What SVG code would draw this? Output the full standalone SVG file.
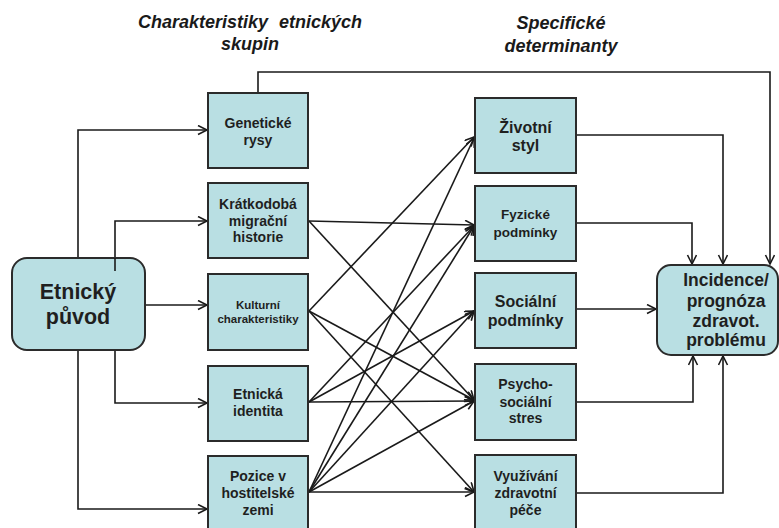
<svg xmlns="http://www.w3.org/2000/svg" width="779" height="528" viewBox="0 0 779 528">
  <defs>
    <marker id="arrow" markerUnits="userSpaceOnUse" markerWidth="12" markerHeight="12" refX="10" refY="5" orient="auto">
      <path d="M1,0.5 L10,5 L1,9.5" fill="none" stroke="#1a1a1a" stroke-width="1.6" stroke-linejoin="miter"/>
    </marker>
    <style>
      .box { fill: #b9dfe3; stroke: #2b2b2b; stroke-width: 2; }
      .lbl { font-family: "Liberation Sans", Arial, sans-serif; font-weight: bold; fill: #1f1f1f; text-anchor: middle; }
      .head { font-family: "Liberation Sans", Arial, sans-serif; font-weight: bold; font-style: italic; font-size: 18px; fill: #1a1a1a; text-anchor: middle; }
      .wire { fill: none; stroke: #1a1a1a; stroke-width: 1.6; marker-end: url(#arrow); }
      .plain { fill: none; stroke: #1a1a1a; stroke-width: 1.6; }
    </style>
  </defs>

  <rect width="779" height="528" fill="#ffffff"/>

  <!-- column headings -->
  <text class="head" x="250" y="28" word-spacing="6">Charakteristiky etnických</text>
  <text class="head" x="250" y="50">skupin</text>
  <text class="head" x="561" y="29">Specifické</text>
  <text class="head" x="561" y="52">determinanty</text>

  <!-- connectors -->
  <g id="connectors">
    <!-- origin to group characteristics -->
    <path class="wire" d="M78,258 V130 H207"/>
    <path class="wire" d="M78,350 V509 H207"/>
    <path class="wire" d="M115,271 V221 H207"/>
    <path class="wire" d="M145,305 H207"/>
    <path class="wire" d="M115,350 V403 H207"/>

    <!-- genetic traits straight to outcome -->
    <path class="wire" d="M258,93 V72 H770 V264"/>

    <!-- characteristics to determinants -->
    <path class="wire" d="M309,221 L474,225"/>
    <path class="wire" d="M309,221 L474,400"/>

    <path class="wire" d="M309,311 L474,137"/>
    <path class="wire" d="M309,311 L474,400"/>
    <path class="wire" d="M309,311 L474,492"/>

    <path class="wire" d="M309,402 L474,226"/>
    <path class="wire" d="M309,402 L474,311"/>
    <path class="wire" d="M309,402 L474,401"/>

    <path class="wire" d="M309,492 L474,138"/>
    <path class="wire" d="M309,492 L474,226"/>
    <path class="wire" d="M309,492 L474,311"/>
    <path class="wire" d="M309,492 L474,401"/>
    <path class="wire" d="M309,492 L474,492"/>

    <!-- determinants to outcome -->
    <path class="wire" d="M576,135 H723 V264"/>
    <path class="wire" d="M576,223 H692 V264"/>
    <path class="wire" d="M576,309 H656"/>
    <path class="wire" d="M576,402 H693 V356"/>
    <path class="wire" d="M576,493 H723 V356"/>
  </g>

  <!-- origin -->
  <g id="etnicky-puvod">
    <rect class="box" x="12" y="258" width="133" height="92" rx="15"/>
    <text class="lbl" x="78" y="299" font-size="21.5">Etnický</text>
    <text class="lbl" x="78" y="324" font-size="21.5">původ</text>
  </g>
  <!-- redraw the branch that passes over the origin box -->
  <path class="plain" d="M115,271 V258"/>

  <!-- group characteristics -->
  <g id="geneticke-rysy">
    <rect class="box" x="208" y="93" width="100" height="75"/>
    <text class="lbl" x="258" y="128" font-size="14">Genetické</text>
    <text class="lbl" x="258" y="145" font-size="14">rysy</text>
  </g>
  <g id="kratkodoba-migrace">
    <rect class="box" x="208" y="183" width="100" height="75"/>
    <text class="lbl" x="258" y="209" font-size="14">Krátkodobá</text>
    <text class="lbl" x="258" y="225.5" font-size="14">migrační</text>
    <text class="lbl" x="258" y="242" font-size="14">historie</text>
  </g>
  <g id="kulturni-charakteristiky">
    <rect class="box" x="208" y="274" width="100" height="76"/>
    <text class="lbl" x="258" y="309" font-size="11.5">Kulturní</text>
    <text class="lbl" x="258" y="322.5" font-size="11.5">charakteristiky</text>
  </g>
  <g id="etnicka-identita">
    <rect class="box" x="208" y="366" width="100" height="75"/>
    <text class="lbl" x="258" y="399" font-size="14">Etnická</text>
    <text class="lbl" x="258" y="416" font-size="14">identita</text>
  </g>
  <g id="pozice">
    <rect class="box" x="208" y="456" width="100" height="76"/>
    <text class="lbl" x="258" y="481" font-size="14">Pozice v</text>
    <text class="lbl" x="258" y="497.5" font-size="14">hostitelské</text>
    <text class="lbl" x="258" y="515" font-size="14">zemi</text>
  </g>

  <!-- specific determinants -->
  <g id="zivotni-styl">
    <rect class="box" x="475" y="98" width="101" height="75"/>
    <text class="lbl" x="525.5" y="133" font-size="16">Životní</text>
    <text class="lbl" x="525.5" y="151" font-size="16">styl</text>
  </g>
  <g id="fyzicke-podminky">
    <rect class="box" x="475" y="186" width="101" height="75"/>
    <text class="lbl" x="525.5" y="219" font-size="13.5">Fyzické</text>
    <text class="lbl" x="525.5" y="237" font-size="13.5">podmínky</text>
  </g>
  <g id="socialni-podminky">
    <rect class="box" x="475" y="273" width="101" height="75"/>
    <text class="lbl" x="525.5" y="306.5" font-size="16">Sociální</text>
    <text class="lbl" x="525.5" y="325.5" font-size="16">podmínky</text>
  </g>
  <g id="psychosocialni-stres">
    <rect class="box" x="475" y="364" width="101" height="76"/>
    <text class="lbl" x="525.5" y="389" font-size="14">Psycho-</text>
    <text class="lbl" x="525.5" y="406.5" font-size="14">sociální</text>
    <text class="lbl" x="525.5" y="423" font-size="14">stres</text>
  </g>
  <g id="vyuzivani-pece">
    <rect class="box" x="475" y="455" width="101" height="76"/>
    <text class="lbl" x="525.5" y="481" font-size="14">Využívání</text>
    <text class="lbl" x="525.5" y="498" font-size="14">zdravotní</text>
    <text class="lbl" x="525.5" y="515" font-size="14">péče</text>
  </g>

  <!-- outcome -->
  <g id="incidence">
    <rect class="box" x="657" y="265" width="121" height="90" rx="14"/>
    <text class="lbl" x="726" y="286" font-size="17.5">Incidence/</text>
    <text class="lbl" x="726" y="307" font-size="17.5">prognóza</text>
    <text class="lbl" x="726" y="326.5" font-size="17.5">zdravot.</text>
    <text class="lbl" x="726" y="345.5" font-size="17.5">problému</text>
  </g>
</svg>
